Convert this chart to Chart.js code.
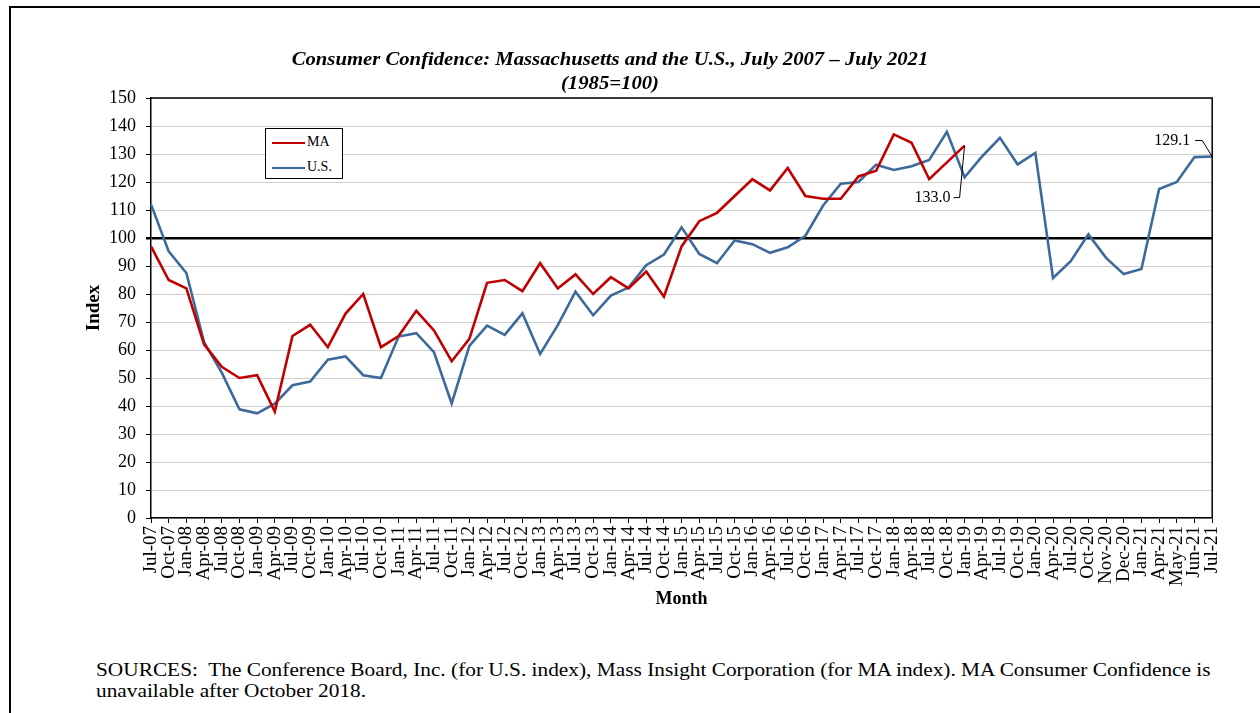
<!DOCTYPE html>
<html>
<head>
<meta charset="utf-8">
<script src="https://cdn.jsdelivr.net/npm/chart.js@4/dist/chart.umd.min.js"></script>
<style>
  body { margin: 0; background: #fff; overflow: hidden; font-family: "Liberation Serif", "Times New Roman", serif; }
  #frame { position: absolute; left: 9px; top: 6px; width: 1300px; height: 800px; border-top: 2px solid #000; border-left: 2px solid #000; }
  #title { position: absolute; left: 0; top: 47px; width: 1220px; text-align: center; font-weight: bold; font-style: italic; font-size: 18px; line-height: 24px; transform: scaleX(1.15); }
  #legend { position: absolute; left: 265px; top: 128px; width: 76px; height: 49px; border: 1.5px solid #000; background: #fff; font-size: 14px; }
  #legend div { position: absolute; left: 6px; height: 16px; line-height: 16px; }
  #legend span { display: inline-block; width: 33px; height: 2.5px; vertical-align: middle; margin-right: 2px; }
  #sources { position: absolute; left: 96px; top: 660px; font-size: 18px; line-height: 21px; white-space: nowrap; transform: scaleX(1.185); transform-origin: left top; }
</style>
</head>
<body>
<div id="frame"></div>
<canvas id="myChart" width="1238" height="610" style="position:absolute;left:0;top:0;"></canvas>
<div id="title">Consumer Confidence: Massachusetts and the U.S., July 2007 – July 2021<br>(1985=100)</div>
<div id="legend"></div>
<div id="sources">SOURCES:&nbsp; The Conference Board, Inc. (for U.S. index), Mass Insight Corporation (for MA index). MA Consumer Confidence is<br>unavailable after October 2018.</div>
<script>
var months = ['Jul-07','Oct-07','Jan-08','Apr-08','Jul-08','Oct-08','Jan-09','Apr-09','Jul-09','Oct-09',
  'Jan-10','Apr-10','Jul-10','Oct-10','Jan-11','Apr-11','Jul-11','Oct-11','Jan-12','Apr-12',
  'Jul-12','Oct-12','Jan-13','Apr-13','Jul-13','Oct-13','Jan-14','Apr-14','Jul-14','Oct-14',
  'Jan-15','Apr-15','Jul-15','Oct-15','Jan-16','Apr-16','Jul-16','Oct-16','Jan-17','Apr-17',
  'Jul-17','Oct-17','Jan-18','Apr-18','Jul-18','Oct-18','Jan-19','Apr-19','Jul-19','Oct-19',
  'Jan-20','Apr-20','Jul-20','Oct-20','Nov-20','Dec-20','Jan-21','Apr-21','May-21','Jun-21','Jul-21'];

var maIndex = [97, 85, 82, 62, 54, 50, 51, 38, 65, 69,
  61, 73, 80, 61, 65, 74, 67, 56, 64, 84,
  85, 81, 91, 82, 87, 80, 86, 82, 88, 79,
  97, 106, 109, 115, 121, 117, 125, 115, 114, 114,
  122, 124, 137, 134, 121, 127, 133.0];

var usIndex = [112.0, 95.2, 87.5, 62.8, 51.9, 38.8, 37.4, 40.8, 47.4, 48.7,
  56.5, 57.7, 51.0, 50.0, 64.8, 66.0, 59.2, 40.9, 61.5, 68.7,
  65.4, 73.1, 58.6, 68.9, 80.8, 72.4, 79.4, 82.3, 90.3, 94.1,
  103.8, 94.3, 91.0, 99.1, 97.8, 94.7, 96.7, 100.8, 111.6, 119.4,
  120.0, 126.2, 124.3, 125.6, 127.9, 137.9, 121.7, 129.2, 135.8, 126.3,
  130.4, 85.7, 91.7, 101.3, 92.9, 87.1, 88.9, 117.5, 120.0, 128.9, 129.1];

var seriesNames = ['MA', 'U.S.'];
var seriesColors = ['#c00000', '#3d6a9b'];

// legend box (html, sits inside the plot like the original)
var legendEl = document.getElementById('legend');
seriesNames.forEach(function (name, i) {
  var row = document.createElement('div');
  row.style.top = (5 + i * 25) + 'px';
  row.innerHTML = '<span style="background:' + seriesColors[i] + '"></span>' + name;
  legendEl.appendChild(row);
});

// frame round the plot + value callouts
var extras = {
  id: 'extras',
  afterDatasetsDraw: function (chart) {
    var c = chart.ctx, a = chart.chartArea;
    var xs = chart.scales.x, ys = chart.scales.y;
    c.save();
    c.strokeStyle = '#000';
    c.lineWidth = 1.5;
    c.beginPath();
    c.moveTo(a.left, a.top); c.lineTo(a.right, a.top); c.lineTo(a.right, a.bottom);
    c.stroke();

    c.lineWidth = 1;
    c.font = '16px "Liberation Serif"';
    c.fillStyle = '#000';
    c.textBaseline = 'middle';
    c.textAlign = 'right';

    var mi = maIndex.length - 1;
    var px = xs.getPixelForValue(mi), py = ys.getPixelForValue(maIndex[mi]);
    c.beginPath();
    c.moveTo(px, py); c.lineTo(px - 5, py + 52); c.lineTo(px - 11, py + 52);
    c.stroke();
    c.fillText(maIndex[mi].toFixed(1), px - 14, py + 52);

    var ui = usIndex.length - 1;
    px = xs.getPixelForValue(ui); py = ys.getPixelForValue(usIndex[ui]);
    c.beginPath();
    c.moveTo(px, py); c.lineTo(px - 10, py - 16); c.lineTo(px - 17, py - 16);
    c.stroke();
    c.fillText(usIndex[ui].toFixed(1), px - 22, py - 16);
    c.restore();
  }
};

var ctx = document.getElementById('myChart').getContext('2d');
new Chart(ctx, {
  type: 'line',
  data: {
    labels: months,
    datasets: [{
      label: seriesNames[0],
      data: maIndex,
      borderColor: seriesColors[0],
      borderWidth: 2.6,
      pointRadius: 0,
      tension: 0
    },
    {
      label: seriesNames[1],
      data: usIndex,
      borderColor: seriesColors[1],
      borderWidth: 2.6,
      pointRadius: 0,
      tension: 0
    }]
  },
  options: {
    responsive: false,
    animation: false,
    layout: { padding: { left: 83, top: 98, right: 17, bottom: 0 } },
    plugins: { legend: { display: false }, tooltip: { enabled: false } },
    scales: {
      x: {
        afterFit: function (s) { s.height = 92; },
        grid: { drawOnChartArea: false, tickLength: 5, tickColor: '#000', color: '#000' },
        border: { color: '#000', width: 1.5 },
        ticks: {
          autoSkip: false, minRotation: 90, maxRotation: 90, padding: 3,
          color: '#000', font: { family: 'Liberation Serif', size: 19 }
        },
        title: {
          display: true, text: 'Month', color: '#000', padding: 0,
          font: { family: 'Liberation Serif', size: 18, weight: 'bold' }
        }
      },
      y: {
        min: 0, max: 150,
        afterFit: function (s) { s.width = 68; },
        grid: {
          tickLength: 5, tickColor: '#000',
          color: function (c) { return c.tick.value === 100 ? '#000' : '#d0d0d0'; },
          lineWidth: function (c) { return c.tick.value === 100 ? 2.5 : 1; }
        },
        border: { color: '#000', width: 1.5 },
        ticks: {
          stepSize: 10, padding: 10, color: '#000',
          font: { family: 'Liberation Serif', size: 18 }
        },
        title: {
          display: true, text: 'Index', color: '#000', padding: 0,
          font: { family: 'Liberation Serif', size: 19, weight: 'bold' }
        }
      }
    }
  },
  plugins: [extras]
});
</script>
</body>
</html>
